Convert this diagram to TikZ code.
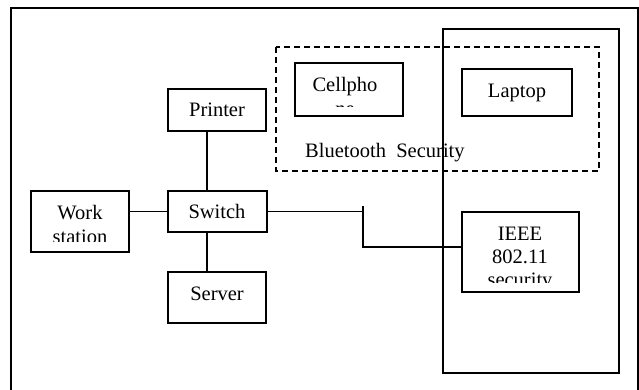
\documentclass[tikz,border=0pt]{standalone}
\usepackage{fontspec}
\setmainfont{Liberation Serif}
\begin{document}
\begin{tikzpicture}[x=1pt,y=-1pt,
  boxstyle/.style={draw,line width=1.1pt,inner sep=0pt},
  lbl/.style={inner sep=0pt,anchor=base,font=\fontsize{20.5}{23}\selectfont},
  wire/.style={line width=1.2pt},
  dashbox/.style={draw,line width=1.1pt,dash pattern=on 6pt off 4pt}]
\useasboundingbox (0,0) rectangle (639,390);
% outer frame (bottom edge cut off)
\draw[line width=1.5pt] (11,392) -- (11,8) -- (638,8) -- (638,392);
% tall right-hand rectangle
\draw[line width=1.1pt] (443,29) rectangle (619,373);
% Bluetooth dashed region
\draw[dashbox] (276,47) rectangle (599,171);
\node[lbl,anchor=base west] (bt) at (305,158) {Bluetooth\ \ Security};

% boxes
\node[boxstyle,minimum width=98pt,minimum height=42pt] (printer) at (217,110) {};
\node[boxstyle,minimum width=99pt,minimum height=41pt] (switch) at (217.5,211.5) {};
\node[boxstyle,minimum width=98pt,minimum height=51pt] (server) at (217,297.5) {};
\node[boxstyle,minimum width=98pt,minimum height=61pt] (work) at (80,221.5) {};
\node[boxstyle,minimum width=108pt,minimum height=53pt] (cell) at (349,89.5) {};
\node[boxstyle,minimum width=110pt,minimum height=47pt] (laptop) at (517,92.5) {};
\node[boxstyle,minimum width=117pt,minimum height=80pt] (ieee) at (520.5,252) {};

% labels
\node[lbl] (printerT) at (217,117) {Printer};
\node[lbl] (switchT) at (217,218) {Switch};
\node[lbl] (serverT) at (217,300) {Server};
\node[lbl] (laptopT) at (517,98) {Laptop};
\begin{scope}
  \clip (31,191) rectangle (129,241);
  \node[lbl] (workT1) at (80,219) {Work};
  \node[lbl] (workT2) at (80,243) {station};
\end{scope}
\begin{scope}
  \clip (295,63) rectangle (403,107);
  \node[lbl] (cellT1) at (345,92) {Cellpho};
  \node[lbl] (cellT2) at (345,116) {ne};
\end{scope}
\begin{scope}
  \clip (462,212) rectangle (579,282);
  \node[lbl] (ieeeT1) at (520,240) {IEEE};
  \node[lbl] (ieeeT2) at (520,263) {802.11};
  \node[lbl] (ieeeT3) at (520,286) {security};
\end{scope}

% connectors
\coordinate (vx) at (207,0);
\coordinate (bendtop) at (363,206);
\coordinate (bend) at (363,247);
\draw[wire] (printer.south -| vx) -- (switch.north -| vx);
\draw[wire] (switch.south -| vx) -- (server.north -| vx);
\draw[wire] (switch.west -| work.east) -- (switch.west);
\draw[wire] (switch.east) -- (switch.east -| bend);
\draw[wire] (bendtop) -- (bend) -- (ieee.west |- bend);
\end{tikzpicture}
\end{document}
